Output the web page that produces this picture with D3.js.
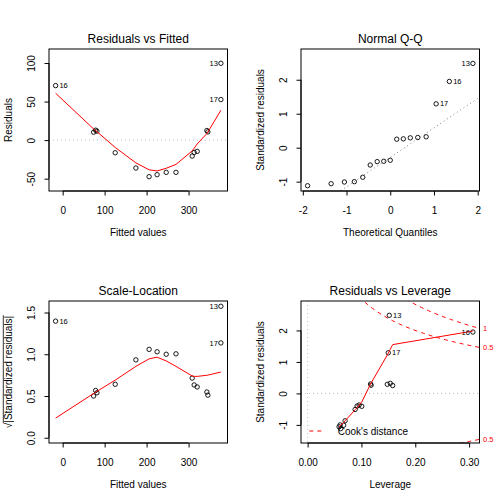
<!DOCTYPE html>
<html><head><meta charset="utf-8">
<script src="https://cdn.jsdelivr.net/npm/d3@7/dist/d3.min.js"></script>
<style>
body{margin:0;background:#fff}
svg text{font-family:"Liberation Sans",Arial,Helvetica,sans-serif;fill:#000}
</style>
</head><body>
<svg id="c" width="504" height="504" xmlns="http://www.w3.org/2000/svg"></svg>
<script>
// ---- data ----
const ids      = ["16","","","","","","","","","","","","","","","13","17"];
const fitted   = [-16.8, 73.8, 78.5, 81.7, 125.2, 174.5, 206, 225, 246.7, 270, 308.6, 313.3, 320.5, 343.6, 346, 377, 377];
const resid    = [70.7, 10.3, 12.9, 11.6, -16.4, -36.2, -47.4, -44.8, -41.8, -41.8, -20.7, -16.0, -14.6, 12.5, 10.7, 99.6, 52.6];
const stdres   = [1.95, 0.25, 0.32, 0.29, -0.41, -0.87, -1.12, -1.06, -1.00, -1.01, -0.51, -0.40, -0.37, 0.30, 0.26, 2.48, 1.29];
const leverage = [0.307, 0.158, 0.1535, 0.148, 0.1006, 0.0696, 0.0615, 0.0585, 0.0604, 0.067, 0.0883, 0.092, 0.0957, 0.117, 0.118, 0.1517, 0.1498];
// smoother (red line) values at each point
const smoothRF = [60.8, 14.5, 12.5, 11, -9.5, -29.5, -38.5, -40, -36.5, -31.5, -14, -10.5, -5, 8.5, 10.5, 38.8, 38.8];
const smoothSL = [0.235, 0.53, 0.545, 0.555, 0.69, 0.855, 0.945, 0.965, 0.92, 0.855, 0.74, 0.735, 0.735, 0.748, 0.75, 0.787, 0.787];
const smoothRL = [1.98, 1.55, 1.40, 1.22, -0.27, -0.87, -1.01, -1.06, -1.03, -0.92, -0.52, -0.45, -0.37, 0.30, 0.33, 1.34, 1.28];
// theoretical normal quantiles for 17 points
const theoQ = [-1.890, -1.352, -1.049, -0.821, -0.629, -0.458, -0.299, -0.148, 0, 0.148, 0.299, 0.458, 0.629, 0.821, 1.049, 1.352, 1.890];
// Cook's distance levels
const cookLevels = [0.5, 1];
const nParams = 2;
// titles & tick labels
const titles = ["Residuals vs Fitted", "Normal Q-Q", "Scale-Location", "Residuals vs Leverage"];
const ticksFit = [0, 100, 200, 300], ticksFitLab = ["0", "100", "200", "300"];
const ticksRes = [-50, 0, 50, 100], ticksResLab = ["-50", "0", "50", "100"];
const ticksQx = [-2, -1, 0, 1, 2], ticksQxLab = ["-2", "-1", "0", "1", "2"];
const ticksStd = [-1, 0, 1, 2], ticksStdLab = ["-1", "0", "1", "2"];
const ticksSL = [0, 0.5, 1, 1.5], ticksSLLab = ["0.0", "0.5", "1.0", "1.5"];
const ticksLev = [0, 0.1, 0.2, 0.3], ticksLevLab = ["0.00", "0.10", "0.20", "0.30"];

// ---- helpers ----
const svg = d3.select("#c");
const BOX = {l: 49, r: 227.5, t: 49, b: 191};
const ext4 = (lo, hi) => { const d = hi - lo; return [lo - 0.04 * d, hi + 0.04 * d]; };
const extR = (lo, hi, f) => { const d = hi - lo; return [lo - f * d, hi + f * d]; };
let clipN = 0;

function panel(ox, oy, xdom, ydom, title, xt, xtl, yt, ytl, xlab, ylab) {
  const g = svg.append("g").attr("transform", `translate(${ox},${oy})`);
  const x = d3.scaleLinear().domain(xdom).range([BOX.l, BOX.r]);
  const y = d3.scaleLinear().domain(ydom).range([BOX.b, BOX.t]);
  const id = "clip" + (clipN++);
  g.append("clipPath").attr("id", id).append("rect")
    .attr("x", BOX.l).attr("y", BOX.t).attr("width", BOX.r - BOX.l).attr("height", BOX.b - BOX.t);
  const plot = g.append("g").attr("clip-path", `url(#${id})`);
  // x axis
  const ax = g.append("g").attr("transform", `translate(0,${BOX.b})`)
    .call(d3.axisBottom(x).tickValues(xt).tickFormat((d, i) => xtl[i]).tickSize(4.5));
  ax.select(".domain").remove();
  ax.selectAll("line").attr("stroke", "#000");
  ax.selectAll("text").attr("y", 19).attr("dy", "0.35em").attr("font-size", 10)
    .attr("font-family", null).attr("fill", "#000");
  ax.append("line").attr("x1", x(xt[0])).attr("x2", x(xt[xt.length - 1])).attr("y1", 0).attr("y2", 0).attr("stroke", "#000");
  // y axis
  const ay = g.append("g").attr("transform", `translate(${BOX.l},0)`)
    .call(d3.axisLeft(y).tickValues(yt).tickFormat((d, i) => ytl[i]).tickSize(4.5));
  ay.select(".domain").remove();
  ay.selectAll("line").attr("stroke", "#000");
  ay.selectAll("text").attr("x", 0).attr("dy", "0.35em").attr("text-anchor", "middle")
    .attr("transform", "translate(-17.3,0) rotate(-90)").attr("font-size", 10)
    .attr("font-family", null).attr("fill", "#000");
  ay.append("line").attr("x1", 0).attr("x2", 0).attr("y1", y(yt[0])).attr("y2", y(yt[yt.length - 1])).attr("stroke", "#000");
  // box
  g.append("rect").attr("x", BOX.l).attr("y", BOX.t).attr("width", BOX.r - BOX.l).attr("height", BOX.b - BOX.t)
    .attr("fill", "none").attr("stroke", "#000");
  // title
  g.append("text").attr("x", (BOX.l + BOX.r) / 2).attr("y", 43.3).attr("text-anchor", "middle")
    .attr("font-size", 12).text(title);
  // x label
  g.append("text").attr("x", (BOX.l + BOX.r) / 2).attr("y", BOX.b + 41).attr("dy", "0.35em")
    .attr("text-anchor", "middle").attr("font-size", 10).text(xlab);
  // y label
  let ylg = null;
  if (ylab !== null) {
    g.append("text").attr("transform", `translate(${BOX.l - 40.5},${(BOX.t + BOX.b) / 2}) rotate(-90)`)
      .attr("dy", "0.35em").attr("text-anchor", "middle").attr("font-size", 10).text(ylab);
  } else {
    ylg = g.append("g").attr("transform", `translate(${BOX.l - 40.5},${(BOX.t + BOX.b) / 2}) rotate(-90)`);
  }
  return {g, x, y, plot, ylg};
}

function points(P, xs, ys) {
  P.plot.selectAll(null).data(xs).enter().append("circle")
    .attr("cx", (d) => P.x(d)).attr("cy", (d, i) => P.y(ys[i])).attr("r", 2.2)
    .attr("fill", "none").attr("stroke", "#000").attr("stroke-width", 0.9);
}
function smooth(P, xs, ys) {
  const pts = xs.map((d, i) => [d, ys[i]]).sort((a, b) => a[0] - b[0]);
  P.plot.append("path").attr("d", d3.line().x(d => P.x(d[0])).y(d => P.y(d[1]))(pts))
    .attr("fill", "none").attr("stroke", "#ff0000").attr("stroke-width", 1);
}
function labels(P, xs, ys, labs) {
  const idx = labs.map((l, i) => i).filter(i => labs[i] !== "");
  const lx = idx.map(i => xs[i]);
  const mid = (d3.min(lx) + d3.max(lx)) / 2;
  idx.forEach(i => {
    const left = xs[i] > mid;
    P.g.append("text").attr("x", P.x(xs[i]) + (left ? -3 : 3.8)).attr("y", P.y(ys[i]))
      .attr("dy", "0.35em").attr("text-anchor", left ? "end" : "start")
      .attr("font-size", 7.5).text(labs[i]);
  });
}
function hline(P, v, color, dash) {
  P.plot.append("line").attr("x1", BOX.l).attr("x2", BOX.r).attr("y1", P.y(v)).attr("y2", P.y(v))
    .attr("stroke", color).attr("stroke-dasharray", dash);
}

// ---- Panel 1: Residuals vs Fitted ----
{
  const xd = ext4(d3.min(fitted), d3.max(fitted));
  const yr = extR(d3.min(resid), d3.max(resid), 0.08);
  const P = panel(0, 0, xd, ext4(yr[0], yr[1]), titles[0], ticksFit, ticksFitLab, ticksRes, ticksResLab, "Fitted values", "Residuals");
  hline(P, 0, "#bebebe", "1,3");
  points(P, fitted, resid);
  smooth(P, fitted, smoothRF);
  labels(P, fitted, resid, ids);
}

// ---- Panel 2: Normal Q-Q ----
{
  const order = d3.range(stdres.length).sort((a, b) => stdres[a] - stdres[b]);
  const qx = [], qy = [], ql = [];
  order.forEach((oi, k) => { qx.push(theoQ[k]); qy.push(stdres[oi]); ql.push(ids[oi]); });
  const ylo = d3.min(stdres), yhi = d3.max(stdres);
  const yd = ext4(ylo, yhi + (yhi - ylo) * 0.075);
  const xd = ext4(d3.min(theoQ), d3.max(theoQ));
  const P = panel(252, 0, xd, yd, titles[1], ticksQx, ticksQxLab, ticksStd, ticksStdLab, "Theoretical Quantiles", "Standardized residuals");
  const sorted = qy.slice();
  const q1 = d3.quantile(sorted, 0.25), q3 = d3.quantile(sorted, 0.75);
  const z = 0.6744898;
  const slope = (q3 - q1) / (2 * z), inter = q1 + slope * z;
  P.plot.append("line").attr("x1", P.x(xd[0])).attr("x2", P.x(xd[1]))
    .attr("y1", P.y(inter + slope * xd[0])).attr("y2", P.y(inter + slope * xd[1]))
    .attr("stroke", "#7f7f7f").attr("stroke-dasharray", "1,3");
  points(P, qx, qy);
  labels(P, qx, qy, ql);
}

// ---- Panel 3: Scale-Location ----
{
  const sl = stdres.map(v => Math.sqrt(Math.abs(v)));
  const xd = ext4(d3.min(fitted), d3.max(fitted));
  const yd = ext4(0, d3.max(sl));
  const P = panel(0, 252, xd, yd, titles[2], ticksFit, ticksFitLab, ticksSL, ticksSLLab, "Fitted values", null);
  const t = P.ylg.append("text").attr("dy", "0.35em").attr("text-anchor", "middle").attr("font-size", 10)
    .text("\u221A|Standardized residuals|");
  const node = t.node();
  const total = node.getComputedTextLength();
  const rad = node.getSubStringLength(0, 1);
  P.ylg.append("line").attr("x1", -total / 2 + rad - 0.5).attr("x2", total / 2 + 0.5)
    .attr("y1", -5.2).attr("y2", -5.2).attr("stroke", "#000").attr("stroke-width", 0.8);
  points(P, fitted, sl);
  smooth(P, fitted, smoothSL);
  labels(P, fitted, sl, ids);
}

// ---- Panel 4: Residuals vs Leverage ----
{
  const xd = ext4(0, d3.max(leverage));
  const yr = extR(d3.min(stdres), d3.max(stdres), 0.08);
  const yd = ext4(yr[0], yr[1]);
  const P = panel(252, 252, xd, yd, titles[3], ticksLev, ticksLevLab, ticksStd, ticksStdLab, "Leverage", "Standardized residuals");
  hline(P, 0, "#bebebe", "1,3");
  P.plot.append("line").attr("x1", P.x(0)).attr("x2", P.x(0)).attr("y1", BOX.t).attr("y2", BOX.b)
    .attr("stroke", "#bebebe").attr("stroke-dasharray", "1,3");
  // Cook's distance contours
  const h0 = Math.min(d3.min(leverage), d3.max(leverage) / 100), h1 = xd[1];
  const hh = d3.range(101).map(i => h0 + (h1 - h0) * i / 100);
  cookLevels.forEach(cl => {
    [1, -1].forEach(sg => {
      const pts = hh.map(h => [h, sg * Math.sqrt(cl * nParams * (1 - h) / h)]);
      P.plot.append("path").attr("d", d3.line().x(d => P.x(d[0])).y(d => P.y(d[1]))(pts))
        .attr("fill", "none").attr("stroke", "#ff0000").attr("stroke-dasharray", "4,4");
      const yv = sg * Math.sqrt(cl * nParams * (1 - h1) / h1);
      if (yv >= yd[0] && yv <= yd[1]) {
        P.g.append("text").attr("x", BOX.r + 3.5).attr("y", P.y(yv)).attr("dy", "0.35em")
          .attr("font-size", 7.5).style("fill", "#ff0000").text(String(cl));
      }
    });
  });
  points(P, leverage, stdres);
  smooth(P, leverage, smoothRL);
  labels(P, leverage, stdres, ids);
  // legend
  P.g.append("line").attr("x1", 309.3 - 252).attr("x2", 324.7 - 252).attr("y1", 431 - 252).attr("y2", 431 - 252)
    .attr("stroke", "#ff0000").attr("stroke-dasharray", "4,4");
  P.g.append("text").attr("x", 337.7 - 252).attr("y", 431 - 252).attr("dy", "0.35em").attr("font-size", 10)
    .text("Cook's distance");
}
</script>
</body></html>
